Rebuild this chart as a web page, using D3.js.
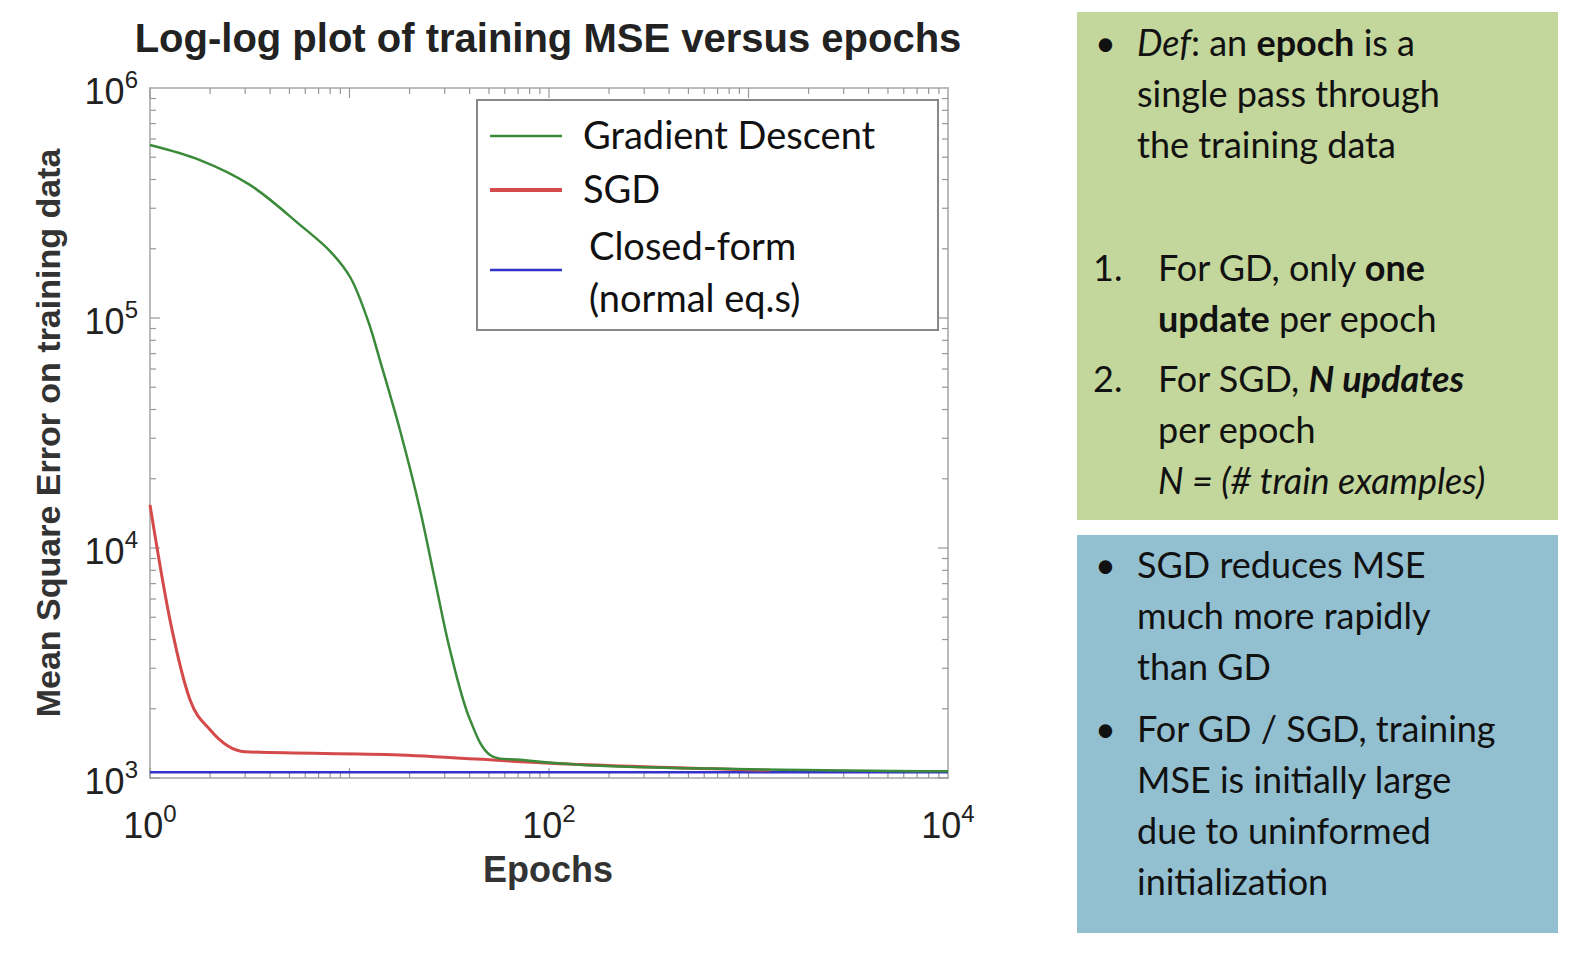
<!DOCTYPE html><html><head><meta charset="utf-8">
<script src="https://cdn.jsdelivr.net/npm/d3@7"></script>
<style>html,body{margin:0;padding:0;overflow:hidden;background:#fff}svg{display:block}</style></head><body>
<svg id="c" width="1592" height="960"></svg>
<script>
const gdX=[1,1.78,3.17,5.65,8.0,10.1,12.5,14.2,17.9,22.6,26.8,31.9,40.2,50.6,71.6,180,10000];
const gdY=[565000,486000,379000,254000,195000,150000,95000,65600,32600,14600,7260,3600,1790,1260,1200,1130,1070];
const sgdX=[1,1.26,1.59,2.0,2.99,17.9,101,1280];
const sgdY=[15400,4860,2180,1620,1300,1260,1160,1080];
const cfX=[1,10000];
const cfY=[1060,1060];
const xTicks=[0,2,4];
const yTicks=[3,4,5,6];
const svg=d3.select("#c");
const L=150,R=948,T=88,B=778;
const x=d3.scaleLog().domain([1,1e4]).range([L,R]);
const y=d3.scaleLog().domain([1e3,1e6]).range([B,T]);
svg.append("text").attr("x",548).attr("y",52).attr("text-anchor","middle").attr("font-family","Liberation Sans").attr("font-weight","bold").attr("font-size",40).attr("fill","#222").text("Log-log plot of training MSE versus epochs");
svg.append("rect").attr("x",L).attr("y",T).attr("width",R-L).attr("height",B-T).attr("fill","#fff").attr("stroke","#bbb").attr("stroke-width",2);
const g=svg.append("g").attr("stroke","#999").attr("stroke-width",1.2);
for(let d=0;d<4;d++)for(let k=1;k<10;k++){const v=Math.pow(10,d)*k,px=x(v),len=k==1?10:6;
 g.append("line").attr("x1",px).attr("x2",px).attr("y1",B).attr("y2",B-len);
 g.append("line").attr("x1",px).attr("x2",px).attr("y1",T).attr("y2",T+len);}
for(let d=3;d<6;d++)for(let k=1;k<10;k++){const v=Math.pow(10,d)*k,py=y(v),len=k==1?10:6;
 g.append("line").attr("y1",py).attr("y2",py).attr("x1",L).attr("x2",L+len);
 g.append("line").attr("y1",py).attr("y2",py).attr("x1",R).attr("x2",R-len);}
const tf="Liberation Sans";
xTicks.forEach(e=>{const t=svg.append("text").attr("x",x(Math.pow(10,e))).attr("y",838).attr("text-anchor","middle").attr("font-family",tf).attr("font-size",36).attr("fill","#222");
 t.append("tspan").text("10");t.append("tspan").attr("dy",-16).attr("font-size",24).text(e);});
yTicks.forEach(e=>{const t=svg.append("text").attr("x",138).attr("y",y(Math.pow(10,e))+16).attr("text-anchor","end").attr("font-family",tf).attr("font-size",36).attr("fill","#222");
 t.append("tspan").text("10");t.append("tspan").attr("dy",-16).attr("font-size",24).text(e);});
svg.append("text").attr("x",548).attr("y",882).attr("text-anchor","middle").attr("font-family",tf).attr("font-weight","bold").attr("font-size",36).attr("fill","#333").text("Epochs");
svg.append("text").attr("transform","translate(60,433) rotate(-90)").attr("text-anchor","middle").attr("font-family",tf).attr("font-weight","bold").attr("font-size",34).attr("fill","#333").text("Mean Square Error on training data");
const line=d3.line().x(d=>x(d[0])).y(d=>y(d[1])).curve(d3.curveCatmullRom.alpha(0.5));
svg.append("path").attr("d",line(cfX.map((v,i)=>[v,cfY[i]]))).attr("fill","none").attr("stroke","#3333cc").attr("stroke-width",2.5);
svg.append("path").attr("d",d3.line().x(d=>x(d[0])).y(d=>y(d[1])).curve(d3.curveMonotoneX)(sgdX.map((v,i)=>[v,sgdY[i]]))).attr("fill","none").attr("stroke","#d44a4a").attr("stroke-width",3);
svg.append("path").attr("d",line(gdX.map((v,i)=>[v,gdY[i]]))).attr("fill","none").attr("stroke","#3a8a3a").attr("stroke-width",2.5);
svg.append("rect").attr("x",477).attr("y",100).attr("width",461).attr("height",230).attr("fill","#fff").attr("stroke","#888").attr("stroke-width",2);
const lf="Lato";
[["Gradient Descent","#3a8a3a",136],["SGD","#d44a4a",190]].forEach(([t,c,yy])=>{
 svg.append("line").attr("x1",490).attr("x2",562).attr("y1",yy).attr("y2",yy).attr("stroke",c).attr("stroke-width",c=="#d44a4a"?4:2.5);
 svg.append("text").attr("x",583).attr("y",yy+13).attr("font-family",lf).attr("font-size",38).attr("fill","#111").text(t);});
svg.append("line").attr("x1",490).attr("x2",562).attr("y1",270).attr("y2",270).attr("stroke","#3333cc").attr("stroke-width",2.5);
svg.append("text").attr("x",589).attr("y",260).attr("font-family",lf).attr("font-size",38).attr("fill","#111").text("Closed-form");
svg.append("text").attr("x",589).attr("y",312).attr("font-family",lf).attr("font-size",38).attr("fill","#111").text("(normal eq.s)");
svg.append("rect").attr("x",1077).attr("y",12).attr("width",481).attr("height",508).attr("fill","#c3d69b");
svg.append("rect").attr("x",1077).attr("y",535).attr("width",481).attr("height",398).attr("fill","#93c0d0");
const fs=36;
function tx(xx,yy,parts){const t=svg.append("text").attr("x",xx).attr("y",yy).attr("font-family",lf).attr("font-size",fs).attr("fill","#111");
 parts.forEach(p=>{const s=t.append("tspan").text(typeof p=="string"?p:p.t);if(p.b)s.attr("font-weight","bold");if(p.i)s.attr("font-style","italic");});}
tx(1095,56,["•"]);
tx(1137,56,[{t:"Def",i:1},": an ",{t:"epoch",b:1}," is a"]);
tx(1137,107,["single pass through"]);
tx(1137,158,["the training data"]);
tx(1093,281,["1."]);
tx(1158,281,["For GD, only ",{t:"one",b:1}]);
tx(1158,332,[{t:"update",b:1}," per epoch"]);
tx(1093,392,["2."]);
tx(1158,392,["For SGD, ",{t:"N updates",b:1,i:1}]);
tx(1158,443,["per epoch"]);
tx(1158,494,[{t:"N = (# train examples)",i:1}]);
tx(1095,578,["•"]);
tx(1137,578,["SGD reduces MSE"]);
tx(1137,629,["much more rapidly"]);
tx(1137,680,["than GD"]);
tx(1095,742,["•"]);
tx(1137,742,["For GD / SGD, training"]);
tx(1137,793,["MSE is initially large"]);
tx(1137,844,["due to uninformed"]);
tx(1137,895,["initialization"]);
</script></body></html>
